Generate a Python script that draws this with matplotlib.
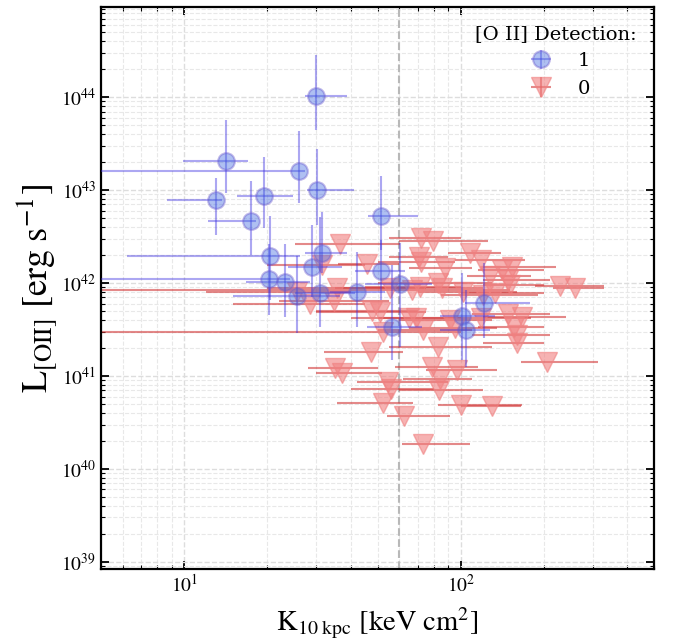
#!/usr/bin/env python3
''' L[OII] vs central entropy, detections and upper limits. '''
import numpy as np
import matplotlib
matplotlib.use('Agg')
import matplotlib.pyplot as plt
from matplotlib.ticker import LogLocator

plt.rcParams['font.family'] = 'STIXGeneral'
plt.rcParams['mathtext.fontset'] = 'stix'

# Detections (blue circles): K10 [keV cm^2], L[OII] [erg/s], with bounds.
det_k = [30.0, 14.2, 25.9, 30.3, 13.0, 19.5, 17.5, 51.5, 20.5, 31.6, 29.0,
         20.2, 23.2, 25.5, 31.0, 42.1, 51.3, 60.3, 56.4, 100.9, 104.0, 121.7]
det_k_lo = [27.3, 9.9, 3.0, 27.8, 8.66, 15.5, 12.2, 46.2, 6.2, 27.3, 23.7,
            3.0, 16.7, 15.0, 25.2, 33.7, 41.5, 45.1, 45.7, 84.2, 84.2, 103.7]
det_k_hi = [38.8, 17.0, 27.3, 41.1, 13.7, 24.7, 18.2, 70.1, 26.2, 38.8, 37.2,
            24.1, 28.5, 36.6, 41.5, 53.2, 62.9, 78.7, 72.3, 133.1, 127.6, 178.0]
det_l = [1.03e44, 2.07e43, 1.61e43, 1.0e43, 7.74e42, 8.55e42, 4.64e42, 5.21e42,
         1.96e42, 2.13e42, 1.50e42, 1.10e42, 1.03e42, 7.24e41, 7.8e41, 7.94e41,
         1.36e42, 9.7e41, 3.34e41, 4.47e41, 3.1e41, 6.1e41]
det_l_lo = [4.42e43, 9.3e42, 7.25e42, 4.21e42, 3.28e42, 3.9e42, 2.0e42, 2.26e42,
            6.57e41, 1.28e42, 7.08e41, 4.53e41, 4.31e41, 2.9e41, 3.36e41, 3.36e41,
            6.57e41, 2.05e41, 1.49e41, 1.49e41, 1.25e41, 2.56e41]
det_l_hi = [2.83e44, 5.66e43, 4.31e43, 2.76e43, 1.35e43, 2.26e43, 1.25e43, 1.41e43,
            5.25e42, 5.8e42, 4.21e42, 2.62e42, 2.62e42, 1.95e42, 5.13e42, 2.15e42,
            2.9e42, 2.69e42, 1.56e42, 1.28e42, 8.4e41, 1.64e42]

# Non-detections (red triangles, upper limits).
lim_k = [36.6, 71.7, 79.2, 108.1, 118.0, 70.8, 71.7, 45.9, 88.0, 140.7, 152.9,
         127.6, 148.7, 150.8, 228.8, 258.0, 35.6, 34.8, 28.5, 25.5, 31.6, 55.5,
         66.5, 71.2, 83.0, 85.4, 102.2, 120.7, 133.1, 47.6, 51.1, 52.5, 65.2,
         68.9, 73.1, 91.5, 95.4, 118.4, 148.7, 166.3, 155.9, 159.4, 159.4, 47.2,
         83.0, 35.0, 37.2, 78.6, 96.9, 204.7, 54.7, 55.9, 84.2, 83.5, 52.5,
         100.3, 129.5, 62.4, 73.2]
lim_k_lo = [25.2, 55.0, 60.0, 90.0, 95.0, 55.0, 50.0, 36.0, 65.0, 115.0, 120.0,
            105.0, 120.0, 120.0, 185.0, 215.0, 20.0, 22.0, 15.0, 12.0, 20.0, 35.0,
            3.0, 45.0, 50.0, 60.0, 70.0, 85.0, 100.0, 30.0, 30.0, 3.0, 40.0,
            50.0, 50.0, 60.0, 65.0, 90.0, 110.0, 120.0, 115.0, 110.0, 120.0, 32.0,
            55.0, 28.0, 30.0, 58.0, 75.0, 165.0, 42.0, 40.0, 62.0, 60.0, 35.7,
            82.8, 100.0, 54.1, 61.3]
lim_k_hi = [60.3, 100.0, 125.0, 140.0, 170.0, 90.0, 95.0, 60.0, 110.0, 200.0, 220.0,
            180.0, 210.0, 200.0, 330.0, 330.0, 60.0, 55.0, 45.0, 40.0, 45.0, 75.0,
            150.0, 100.0, 130.0, 120.0, 160.0, 190.0, 200.0, 70.0, 75.0, 100.0, 95.0,
            100.0, 110.0, 130.0, 135.0, 180.0, 210.0, 240.0, 200.0, 210.0, 200.0, 62.0,
            130.0, 50.0, 52.0, 115.0, 135.0, 314.0, 90.0, 80.0, 110.0, 120.0, 67.2,
            166.7, 165.0, 91.5, 108.0]
lim_l = [2.66e42, 3.02e42, 2.85e42, 2.08e42, 1.77e42, 1.92e42, 1.68e42, 1.60e42,
         1.44e42, 1.38e42, 1.47e42, 1.20e42, 1.08e42, 9.5e41, 9.3e41, 8.9e41,
         8.9e41, 6.4e41, 5.94e41, 8.0e41, 1.58e42, 8.77e41, 8.41e41, 9.12e41,
         9.93e41, 8.77e41, 8.0e41, 7.43e41, 7.75e41, 5.06e41, 4.82e41, 2.94e41,
         4.2e41, 4.2e41, 3.12e41, 4.0e41, 3.32e41, 4.2e41, 4.64e41, 4.26e41,
         3.36e41, 2.76e41, 2.26e41, 1.83e41, 2.07e41, 1.21e41, 1.07e41, 1.26e41,
         1.16e41, 1.41e41, 8.7e40, 7.25e40, 9.3e40, 7.07e40, 5.09e40, 4.88e40,
         4.76e40, 3.67e40, 1.83e40]

K_CUT = 60.0


def asym(val, lo, hi):
  val, lo, hi = np.array(val), np.array(lo), np.array(hi)
  return np.vstack([val - lo, hi - val])


def main():
  fig = plt.figure(figsize=(6.73, 6.41), dpi=100)
  ax = fig.add_axes([0.150, 0.112, 0.822, 0.877])
  ax.set_xscale('log')
  ax.set_yscale('log')

  ax.errorbar(det_k, det_l, xerr=asym(det_k, det_k_lo, det_k_hi),
    yerr=asym(det_l, det_l_lo, det_l_hi), fmt='o', ms=12, color='royalblue',
    mec='slateblue', mew=1.5, ecolor='#3b2fe0', elinewidth=1.5, alpha=0.42,
    label='1', zorder=3)
  ax.errorbar(lim_k, lim_l, xerr=asym(lim_k, lim_k_lo, lim_k_hi),
    yerr=np.zeros(len(lim_l)), fmt='v', ms=14, color='lightcoral',
    mec='lightcoral', ecolor='#d33a3a', elinewidth=1.5, alpha=0.6,
    label='0', zorder=2)

  ax.axvline(K_CUT, color='#b8b8b8', ls='--', lw=1.5, zorder=1)

  ax.set_xlim(5, 500)
  ax.set_ylim(10**38.92, 10**44.97)
  ax.yaxis.set_major_locator(LogLocator(base=10, numticks=20))
  ax.yaxis.set_minor_locator(LogLocator(base=10, subs=np.arange(2, 10), numticks=20))

  ax.grid(True, which='major', ls='--', color='#dddddd', lw=1.0)
  ax.grid(True, which='minor', ls='--', color='#e8e8e8', lw=0.8)
  ax.set_axisbelow(True)

  ax.tick_params(which='both', direction='in', top=True, right=True, labelsize=14)
  ax.tick_params(which='major', length=6, width=1.3)
  ax.tick_params(which='minor', length=3, width=0.8)
  for s in ax.spines.values():
    s.set_linewidth(1.6)

  ax.set_xlabel(r'$\mathrm{K_{10\ kpc}\ [keV\ cm^{2}]}$', fontsize=20.5, labelpad=7)
  ax.set_ylabel(r'$\mathrm{L_{[OII]}\ [erg\ s^{-1}]}$', fontsize=26, labelpad=1)

  ax.legend(loc='upper right', frameon=False, title='[O II] Detection:',
    prop={'family': 'DejaVu Serif', 'size': 14},
    title_fontproperties={'family': 'DejaVu Serif', 'size': 14},
    labelspacing=0.5, handletextpad=0.9)
  fig.savefig('out.png', dpi=100)


if __name__ == '__main__':
  main()
